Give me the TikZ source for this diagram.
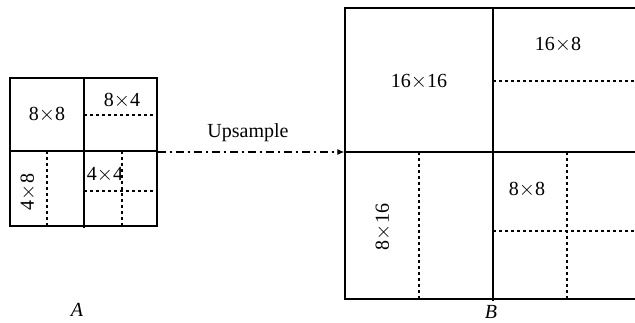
\documentclass[tikz,border=0pt]{standalone}
\usepackage{fontspec}
\setmainfont{Liberation Serif}
\usetikzlibrary{arrows.meta,positioning}
\newcommand{\by}{\ensuremath{\times}}

\begin{document}
\begin{tikzpicture}[x=1pt, y=-1pt,
  blk/.style={draw=black, line width=1.4pt, inner sep=0pt},
  part/.style={line width=1.4pt},
  subpart/.style={line width=1.1pt, dash pattern=on 3pt off 3pt},
  lbl/.style={font=\fontsize{20}{22}\selectfont, inner sep=0pt},
  upsarr/.style={-{Latex[length=7pt,width=6pt]}, line width=1.1pt, dash pattern=on 8pt off 4pt on 2pt off 4pt}
]
\useasboundingbox (0,0) rectangle (635,322);
\clip (0,0) rectangle (635,322);
% block A
\node[blk, minimum width=147pt, minimum height=148pt] (blkA) at (83.5,152) {};
\draw[part] (84,78) -- (84,228);
\draw[part] (10,151) -- (157,151);
\draw[subpart] (84,115) -- (157,115);
\draw[subpart] (47,151) -- (47,226);
\draw[subpart] (122,151) -- (122,226);
\draw[subpart] (84,191) -- (157,191);
\node[lbl] (a88) at (47,115) {8\by8};
\node[lbl] (a84) at (122,101) {8\by4};
\node[lbl, rotate=90] (a48) at (28,192) {4\by8};
\node[lbl] (a44) at (105,175) {4\by4};
\node[lbl, font=\fontsize{20}{22}\selectfont\itshape] (labA) at (77,310) {A};
% block B
\node[blk, minimum width=296pt, minimum height=291pt] (blkB) at (493,153.5) {};
\draw[part] (493,8) -- (493,301);
\draw[part] (345,152) -- (641,152);
\draw[subpart] (493,81) -- (641,81);
\draw[subpart] (419,152) -- (419,299);
\draw[subpart] (567,152) -- (567,299);
\draw[subpart] (493,231) -- (641,231);
\node[lbl] (b1616) at (419,82) {16\by16};
\node[lbl] (b168) at (558,45) {16\by8};
\node[lbl, rotate=90] (b816) at (383,227) {8\by16};
\node[lbl] (b88) at (527,190) {8\by8};
\node[lbl, font=\fontsize{20}{22}\selectfont\itshape] (labB) at (491,311.5) {B};
% upsample arrow
\draw[upsarr] (blkA.east) -- (blkB.west |- blkA.east);
\node[lbl] (ups) at (248,133) {Upsample};
\end{tikzpicture}
\end{document}
